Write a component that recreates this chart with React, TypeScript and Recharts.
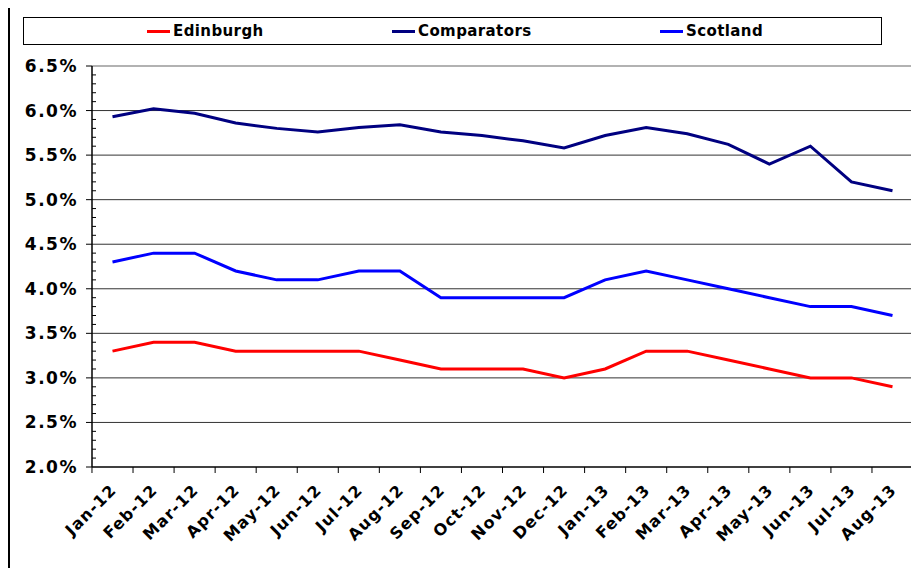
import React from "react";
import { LineChart, Line, XAxis, YAxis, ReferenceLine } from "recharts";

const months = [
  "Jan-12", "Feb-12", "Mar-12", "Apr-12", "May-12", "Jun-12", "Jul-12", "Aug-12", "Sep-12", "Oct-12",
  "Nov-12", "Dec-12", "Jan-13", "Feb-13", "Mar-13", "Apr-13", "May-13", "Jun-13", "Jul-13", "Aug-13",
];
const edinburgh = [3.3, 3.4, 3.4, 3.3, 3.3, 3.3, 3.3, 3.2, 3.1, 3.1, 3.1, 3.0, 3.1, 3.3, 3.3, 3.2, 3.1, 3.0, 3.0, 2.9];
const comparators = [5.93, 6.02, 5.97, 5.86, 5.8, 5.76, 5.81, 5.84, 5.76, 5.72, 5.66, 5.58, 5.72, 5.81, 5.74, 5.62, 5.4, 5.6, 5.2, 5.1];
const scotland = [4.3, 4.4, 4.4, 4.2, 4.1, 4.1, 4.2, 4.2, 3.9, 3.9, 3.9, 3.9, 4.1, 4.2, 4.1, 4.0, 3.9, 3.8, 3.8, 3.7];
const majorTicks = [2.0, 2.5, 3.0, 3.5, 4.0, 4.5, 5.0, 5.5, 6.0, 6.5];

// minor ticks every 0.1 between the labelled ones
const allTicks = majorTicks.flatMap((t, i) =>
  i === majorTicks.length - 1 ? [t] : [0, 1, 2, 3, 4].map((k) => Math.round((t + k * 0.1) * 10) / 10)
);

const series = [
  { key: "edinburgh", name: "Edinburgh", color: "#ff0000", legendX: 147 },
  { key: "comparators", name: "Comparators", color: "#000080", legendX: 392 },
  { key: "scotland", name: "Scotland", color: "#0000ff", legendX: 660 },
];

const data = months.map((m, i) => ({
  month: m,
  edinburgh: edinburgh[i],
  comparators: comparators[i],
  scotland: scotland[i],
}));

const FONT = "'DejaVu Sans', Verdana, sans-serif";

function YTick(props: any) {
  const { x, y, payload } = props;
  const v = Number(payload.value);
  const isMajor = majorTicks.some((t) => Math.abs(t - v) < 1e-6);
  if (!isMajor) {
    return <line x1={x} x2={x + 4} y1={y} y2={y} stroke="#000" strokeWidth={1} />;
  }
  return (
    <g>
      <line x1={x - 6} x2={x} y1={y} y2={y} stroke="#000" strokeWidth={1} />
      <text x={x - 14} y={y} dy={6} textAnchor="end" fontFamily={FONT} fontWeight="bold" fontSize={17} letterSpacing={1.5} fill="#000">
        {v.toFixed(1)}%
      </text>
    </g>
  );
}

function XTick(props: any) {
  const { x, y, payload, index } = props;
  const half = 821 / months.length / 2;
  const ax = x + 5;
  const ay = y + 24;
  return (
    <g>
      <line x1={x - half} x2={x - half} y1={y} y2={y + 6} stroke="#000" strokeWidth={1} />
      {index === months.length - 1 && (
        <line x1={x + half} x2={x + half} y1={y} y2={y + 6} stroke="#000" strokeWidth={1} />
      )}
      <text
        x={ax}
        y={ay}
        textAnchor="end"
        fontFamily={FONT}
        fontWeight="bold"
        fontSize={16}
        letterSpacing={1.2}
        fill="#000"
        transform={`rotate(-45, ${ax}, ${ay})`}
      >
        {payload.value}
      </text>
    </g>
  );
}

export default function App() {
  return (
    <div style={{ position: "relative", margin: -8, width: 919, height: 590, overflow: "hidden", background: "#fff" }}>
      <div style={{ position: "absolute", left: 8, top: 3, width: 1000, height: 700, border: "2px solid #000" }} />
      <div
        style={{
          position: "absolute",
          left: 23,
          top: 17,
          width: 857,
          height: 26,
          border: "1px solid #000",
          background: "#fff",
        }}
      >
        {series.map((s) => (
          <div
            key={s.key}
            style={{
              position: "absolute",
              left: s.legendX - 24,
              top: 4,
              display: "flex",
              alignItems: "center",
              fontFamily: FONT,
              fontWeight: "bold",
              fontSize: 15,
              letterSpacing: 0.4,
              whiteSpace: "nowrap",
            }}
          >
            <span style={{ display: "inline-block", width: 23, height: 3, background: s.color, marginRight: 3 }} />
            {s.name}
          </div>
        ))}
      </div>
      <div style={{ position: "absolute", left: 0, top: 0 }}>
        <LineChart width={919} height={568} data={data} margin={{ top: 66, right: 6, bottom: 41, left: 12 }}>
          <XAxis
            dataKey="month"
            height={60}
            padding={{ left: 20.5, right: 20.5 }}
            axisLine={{ stroke: "#000", strokeWidth: 1.5 }}
            tickLine={false}
            tickSize={0}
            tickMargin={0}
            interval={0}
            tick={<XTick />}
          />
          <YAxis
            width={80}
            domain={[2, 6.5]}
            ticks={allTicks}
            interval={0}
            axisLine={{ stroke: "#000", strokeWidth: 1.5 }}
            tickLine={false}
            tickSize={0}
            tickMargin={0}
            tick={<YTick />}
          />
          <YAxis
            yAxisId="right"
            orientation="right"
            width={0}
            domain={[2, 6.5]}
            tick={false}
            tickLine={false}
            axisLine={{ stroke: "#999", strokeWidth: 1.5 }}
          />
          {majorTicks.slice(1, -1).map((t) => (
            <ReferenceLine key={t} y={t} stroke="#333" strokeWidth={1} />
          ))}
          <ReferenceLine y={6.5} stroke="#999" strokeWidth={1.5} />
          {series.map((s) => (
            <Line
              key={s.key}
              type="linear"
              dataKey={s.key}
              name={s.name}
              stroke={s.color}
              strokeWidth={3}
              dot={false}
              isAnimationActive={false}
            />
          ))}
        </LineChart>
      </div>
    </div>
  );
}
